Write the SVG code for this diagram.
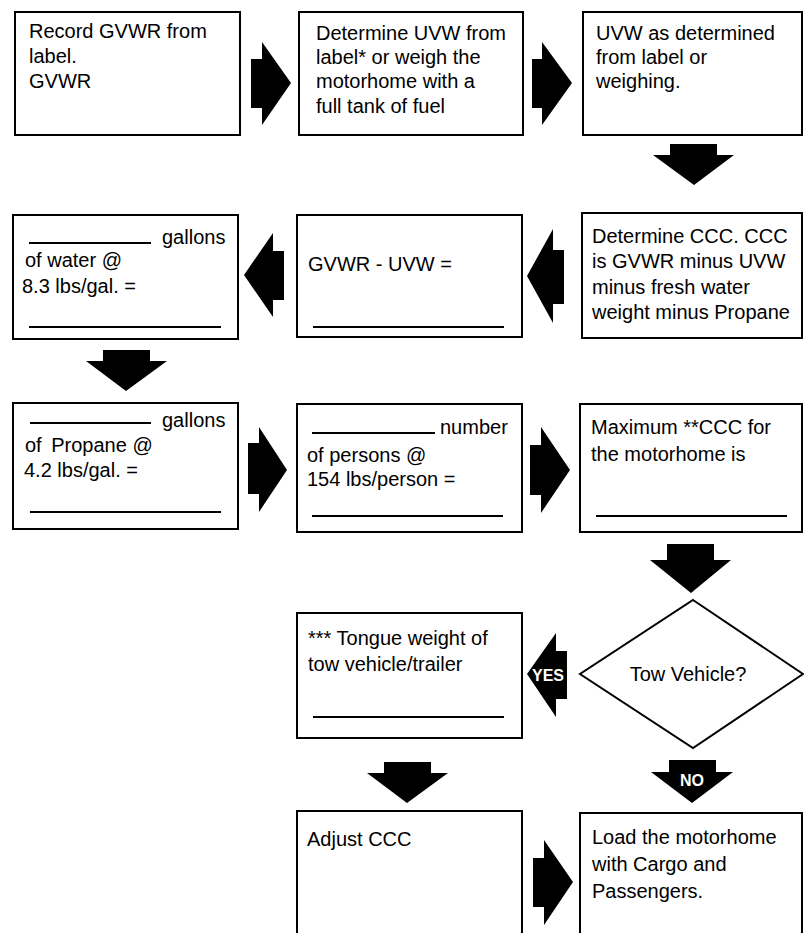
<svg xmlns="http://www.w3.org/2000/svg" width="804" height="933" viewBox="0 0 804 933">
<style>
.box{fill:#fff;stroke:#000;stroke-width:2}
.t{font-family:"Liberation Sans",Arial,sans-serif;font-size:20px;fill:#000}
.ln{stroke:#000;stroke-width:2}
.arr{fill:#000}
.lbl{font-family:"Liberation Sans",Arial,sans-serif;font-weight:bold;fill:#fff;text-anchor:middle}
</style>
<rect width="804" height="933" fill="#fff"/>
<g id="n1">
<rect class="box" x="15" y="12" width="225" height="123"/>
<text class="t" x="29" y="38">Record GVWR from</text>
<text class="t" x="29" y="63">label.</text>
<text class="t" x="29" y="88">GVWR</text>
</g>
<g id="n2">
<rect class="box" x="299" y="12" width="224" height="123"/>
<text class="t" x="316" y="40">Determine UVW from</text>
<text class="t" x="316" y="64">label* or weigh the</text>
<text class="t" x="316" y="88">motorhome with a</text>
<text class="t" x="316" y="113">full tank of fuel</text>
</g>
<g id="n3">
<rect class="box" x="583" y="12" width="219" height="123"/>
<text class="t" x="596" y="40">UVW as determined</text>
<text class="t" x="596" y="64">from label or</text>
<text class="t" x="596" y="88">weighing.</text>
</g>
<g id="n4">
<rect class="box" x="582" y="213" width="220" height="125"/>
<text class="t" x="592" y="243">Determine CCC. CCC</text>
<text class="t" x="592" y="268">is GVWR minus UVW</text>
<text class="t" x="592" y="294">minus fresh water</text>
<text class="t" x="592" y="319">weight minus Propane</text>
</g>
<g id="n5">
<rect class="box" x="297" y="215" width="225" height="122"/>
<text class="t" x="308" y="271">GVWR - UVW =</text>
<line class="ln" x1="313" y1="327" x2="504" y2="327"/>
</g>
<g id="n6">
<rect class="box" x="13" y="215" width="225" height="124"/>
<line class="ln" x1="29" y1="243" x2="151" y2="243"/>
<text class="t" x="162" y="244">gallons</text>
<text class="t" x="25" y="267">of water @</text>
<text class="t" x="22" y="293">8.3 lbs/gal. =</text>
<line class="ln" x1="29" y1="327" x2="221" y2="327"/>
</g>
<g id="n7">
<rect class="box" x="13" y="403" width="225" height="126"/>
<line class="ln" x1="30" y1="423" x2="151" y2="423"/>
<text class="t" x="162" y="427">gallons</text>
<text class="t" x="25" y="452">of <tspan dx="4">Propane @</tspan></text>
<text class="t" x="24" y="477">4.2 lbs/gal. =</text>
<line class="ln" x1="30" y1="512" x2="221" y2="512"/>
</g>
<g id="n8">
<rect class="box" x="297" y="404" width="225" height="128"/>
<line class="ln" x1="312" y1="433" x2="435" y2="433"/>
<text class="t" x="440" y="434">number</text>
<text class="t" x="307" y="462">of persons @</text>
<text class="t" x="307" y="486">154 lbs/person =</text>
<line class="ln" x1="312" y1="516" x2="503" y2="516"/>
</g>
<g id="n9">
<rect class="box" x="580" y="404" width="222" height="128"/>
<text class="t" x="591" y="434">Maximum **CCC for</text>
<text class="t" x="591" y="461">the motorhome is</text>
<line class="ln" x1="596" y1="516" x2="787" y2="516"/>
</g>
<g id="n10">
<polygon class="box" points="693,600 803,674 693,748 580,674"/>
<text class="t" x="688" y="681" text-anchor="middle">Tow Vehicle?</text>
</g>
<g id="n11">
<rect class="box" x="297" y="613" width="225" height="125"/>
<text class="t" x="308" y="645">*** Tongue weight of</text>
<text class="t" x="308" y="671">tow vehicle/trailer</text>
<line class="ln" x1="313" y1="717" x2="504" y2="717"/>
</g>
<g id="n12">
<rect class="box" x="297" y="811" width="225" height="130"/>
<text class="t" x="307" y="846">Adjust CCC</text>
</g>
<g id="n13">
<rect class="box" x="580" y="813" width="222" height="130"/>
<text class="t" x="592" y="844">Load the motorhome</text>
<text class="t" x="592" y="871">with Cargo and</text>
<text class="t" x="592" y="898">Passengers.</text>
</g>
<g id="connectors">
<polygon class="arr" points="251,59 262,59 262,42 291,83 262,125 262,108 251,108"/>
<polygon class="arr" points="532,59 542,59 542,42 572,83 542,125 542,108 532,108"/>
<polygon class="arr" points="670,144 717,144 717,155 734,155 694,185 653,155 670,155"/>
<polygon class="arr" points="564,250 553,250 553,229 527,276 553,323 553,304 564,304"/>
<polygon class="arr" points="284,251 273,251 273,233 244,275 273,317 273,300 284,300"/>
<polygon class="arr" points="103,350 150,350 150,361 167,361 126,391 86,361 103,361"/>
<polygon class="arr" points="248,443 259,443 259,427 287,470 259,512 259,494 248,494"/>
<polygon class="arr" points="530,445 541,445 541,427 570,470 541,513 541,495 530,495"/>
<polygon class="arr" points="667,544 714,544 714,560 731,560 691,593 650,560 667,560"/>
<polygon class="arr" points="567,651 556,651 556,633 527,674 556,717 556,699 567,699"/>
<text class="lbl" x="548" y="681" font-size="16">YES</text>
<polygon class="arr" points="669,760 716,760 716,772 733,772 692,803 651,772 669,772"/>
<text class="lbl" x="692" y="786" font-size="16">NO</text>
<polygon class="arr" points="384,762 431,762 431,773 448,773 407,803 367,773 384,773"/>
<polygon class="arr" points="533,858 544,858 544,840 573,882 544,925 544,907 533,907"/>
</g>
</svg>
